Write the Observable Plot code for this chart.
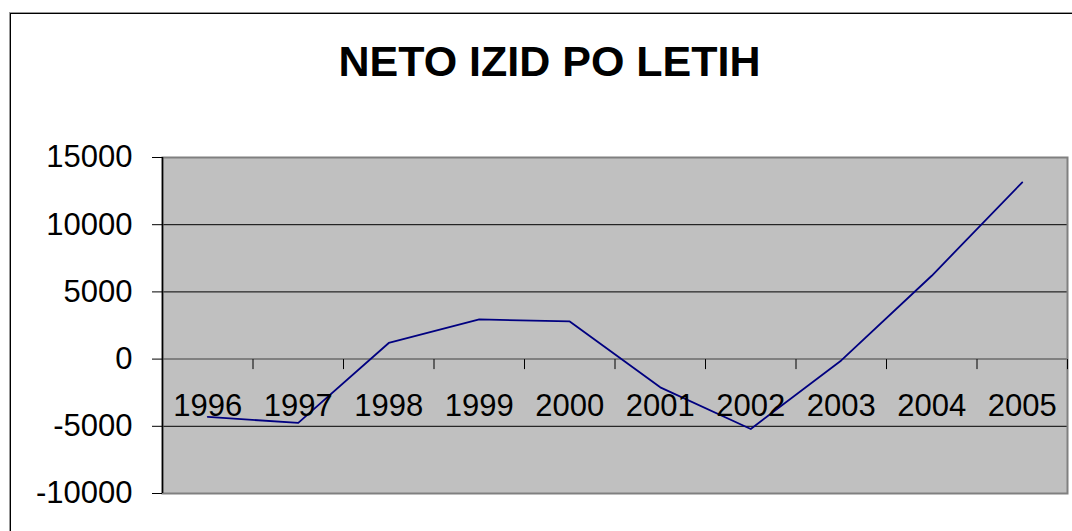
<!DOCTYPE html>
<html>
<head>
<meta charset="utf-8">
<script src="https://cdn.jsdelivr.net/npm/d3@7"></script>
<script src="https://cdn.jsdelivr.net/npm/@observablehq/plot@0.6"></script>
<style>
  html, body { margin: 0; padding: 0; background: #fff; overflow: hidden; }
  #wrap { position: relative; width: 1072px; height: 531px; overflow: hidden; }
  #border { position: absolute; left: 9px; top: 12px; width: 1200px; height: 700px;
            border-top: 1px solid #999; border-left: 1px solid #999; }
  #border2 { position: absolute; left: 10px; top: 13px; width: 1200px; height: 700px;
            border-top: 1px solid #000; border-left: 1px solid #000; }
  #chart { position: absolute; left: 0; top: 0; }
</style>
</head>
<body>
<div id="wrap">
  <div id="border"></div>
  <div id="border2"></div>
  <div id="chart"></div>
</div>
<script>
const title = "NETO IZID PO LETIH";
const years = [1996, 1997, 1998, 1999, 2000, 2001, 2002, 2003, 2004, 2005];
const values = [-4300, -4750, 1200, 2950, 2800, -2100, -5200, -100, 6200, 13150];
const yTicks = [-10000, -5000, 0, 5000, 10000, 15000];
const gridValues = [-5000, 5000, 10000];

const data = years.map((year, i) => ({year, value: values[i]}));
const boundaries = [...years.map(y => y - 0.5), years[years.length - 1] + 0.5];

const tickDown = {
  draw(context, size) {
    const l = Math.sqrt(size / Math.PI);
    context.moveTo(0, 0);
    context.lineTo(0, l);
  }
};

const chart = Plot.plot({
  width: 1072,
  height: 531,
  marginLeft: 162,
  marginRight: 5,
  marginTop: 157,
  marginBottom: 38,
  style: {fontFamily: "'Liberation Sans', Arial, sans-serif", background: "transparent", overflow: "visible"},
  x: {domain: [boundaries[0], boundaries[boundaries.length - 1]], axis: null},
  y: {domain: [yTicks[0], yTicks[yTicks.length - 1]], axis: null},
  marks: [
    Plot.frame({fill: "#c0c0c0", stroke: null}),
    Plot.ruleY(gridValues, {stroke: "#000", strokeWidth: 1}),
    Plot.frame({stroke: "#808080", strokeWidth: 2}),
    Plot.ruleY([0], {stroke: "#808080", strokeWidth: 2}),
    Plot.ruleX([boundaries[0]], {stroke: "#000", strokeWidth: 1.5}),
    Plot.dot(boundaries, {x: d => d, y: 0, symbol: tickDown, r: 10, stroke: "#000", strokeWidth: 1, fill: "none"}),
    Plot.axisY({ticks: yTicks, tickSize: 10, tickPadding: 20, fontSize: 31, label: null,
                tickFormat: d => String(d), stroke: "#000", color: "#000"}),
    Plot.line(data, {x: "year", y: "value", stroke: "#000080", strokeWidth: 1.8}),
    Plot.text(years, {x: d => d, y: 0, text: d => String(d), dy: 47, fontSize: 31, fill: "#000", lineAnchor: "middle"}),
    Plot.text([title], {frameAnchor: "top-left", dx: 387, dy: -82, lineAnchor: "bottom", textAnchor: "middle",
                        fontSize: 43, fontWeight: "bold", fill: "#000", text: d => d})
  ]
});
document.getElementById("chart").appendChild(chart);
</script>
</body>
</html>
